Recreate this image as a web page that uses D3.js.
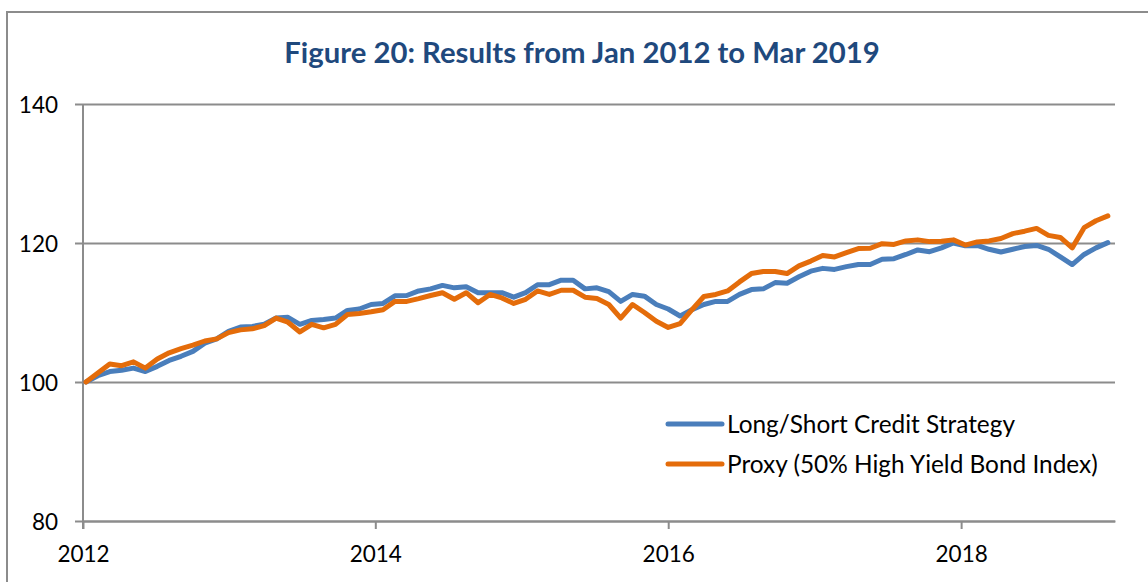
<!DOCTYPE html>
<html>
<head>
<meta charset="utf-8">
<script src="https://cdn.jsdelivr.net/npm/d3@7"></script>
<style>
    body { margin: 0; background: #fff; }
    svg { display: block; }
    text { font-family: Lato, "Open Sans", sans-serif; }
</style>
</head>
<body>
<svg id="chart" width="1148" height="582"></svg>
<script>

// monthly index, Jan 2012 .. Mar 2019
var strategy = [
    100.0, 100.9, 101.5, 101.7, 102.0, 101.5, 102.25, 103.1, 103.7, 104.4,
    105.6, 106.2, 107.3, 107.9, 108.0, 108.3, 109.2, 109.3, 108.3, 108.85,
    109.0, 109.2, 110.3, 110.5, 111.15, 111.3, 112.4, 112.45, 113.1, 113.4,
    113.9, 113.55, 113.7, 112.85, 112.85, 112.85, 112.2, 112.85, 114.0, 114.0,
    114.65, 114.65, 113.4, 113.55, 113.0, 111.6, 112.6, 112.35, 111.15, 110.5,
    109.5, 110.4, 111.15, 111.6, 111.6, 112.6, 113.3, 113.4, 114.3, 114.2,
    115.15, 115.95, 116.35, 116.2, 116.6, 116.9, 116.9, 117.65, 117.75, 118.35,
    119.0, 118.75, 119.3, 120.0, 119.6, 119.65, 119.1, 118.7, 119.1, 119.5,
    119.65, 119.1, 118.0, 116.9, 118.35, 119.3, 120.05
]

var proxy = [
    100.0, 101.3, 102.6, 102.35, 102.9, 102.0, 103.3, 104.2, 104.8, 105.3,
    105.9, 106.2, 107.1, 107.5, 107.65, 108.1, 109.2, 108.6, 107.2, 108.3,
    107.8, 108.3, 109.7, 109.85, 110.1, 110.4, 111.6, 111.6, 112.0, 112.45,
    112.85, 111.9, 112.85, 111.4, 112.6, 112.1, 111.3, 111.9, 113.1, 112.6,
    113.2, 113.2, 112.2, 112.0, 111.15, 109.2, 111.15, 110.0, 108.75, 107.85,
    108.4, 110.4, 112.3, 112.6, 113.1, 114.4, 115.6, 115.9, 115.9, 115.6,
    116.7, 117.4, 118.2, 118.0, 118.6, 119.2, 119.25, 119.9, 119.8, 120.3,
    120.45, 120.2, 120.25, 120.45, 119.7, 120.15, 120.3, 120.65, 121.35, 121.7,
    122.1, 121.1, 120.8, 119.3, 122.2, 123.2, 123.9
]

var seriesNames = ["Long/Short Credit Strategy", "Proxy (50% High Yield Bond Index)"]
var seriesColors = ["#4a7ebb", "#e46c0a"]

var yTicks = [80, 100, 120, 140]
var yearLabels = ["2012", "2014", "2016", "2018"]
var yearTickIdx = [-0.25, 24.35, 49.0, 73.65]   // where the year labels fall on the month index

var title = "Figure 20: Results from Jan 2012 to Mar 2019"

var svg = d3.select("#chart")

// outer frame (cropped on the right and bottom)
svg.append("rect")
    .attr("x", 7)
    .attr("y", 12)
    .attr("width", 1160)
    .attr("height", 600)
    .attr("fill", "none")
    .attr("stroke", "#8c8c8c")
    .attr("stroke-width", 2)

svg.append("text")
    .attr("x", 582)
    .attr("y", 63)
    .attr("text-anchor", "middle")
    .attr("font-size", 29.3)
    .attr("font-weight", "bold")
    .attr("fill", "#1f497d")
    .text(title)

var x = d3.scaleLinear()
          .domain([-0.25, 86.6])
          .range([83, 1115])

var y = d3.scaleLinear()
          .domain([80, 140])
          .range([521, 104])

// horizontal grid + y ticks
var yAxis = d3.axisLeft(y)
              .tickValues(yTicks)
              .tickSize(8)
              .tickPadding(17)

var gy = svg.append("g")
            .attr("transform", "translate(83,0)")
            .call(yAxis)

gy.select(".domain").remove()
gy.selectAll(".tick line")
    .attr("x2", 1115 - 83)
    .attr("x1", -8)
gy.selectAll(".tick line, .domain")
    .attr("stroke", "#8c8c8c")
    .attr("stroke-width", 2)
gy.selectAll("text")
    .attr("font-size", 22.5)
    .attr("fill", "#000")
    .attr("dy", "0.36em")

// x axis
var xAxis = d3.axisBottom(x)
              .tickValues(yearTickIdx)
              .tickFormat(function(d, i) { return yearLabels[i] })
              .tickSize(8)
              .tickSizeOuter(0)
              .tickPadding(17)

var gx = svg.append("g")
            .attr("transform", "translate(0,521)")
            .call(xAxis)

gx.selectAll(".tick line, .domain")
    .attr("stroke", "#8c8c8c")
    .attr("stroke-width", 2)
gx.selectAll("text")
    .attr("font-size", 22.5)
    .attr("fill", "#000")

// vertical axis line
svg.append("line")
    .attr("x1", x(-0.25))
    .attr("x2", x(-0.25))
    .attr("y1", y(140))
    .attr("y2", y(80) + 8)
    .attr("stroke", "#8c8c8c")
    .attr("stroke-width", 2)

var line = d3.line()
             .x(function(d, i) { return x(i) })
             .y(function(d) { return y(d) })

var series = [strategy, proxy]

svg.selectAll("path.series")
    .data(series)
  .enter().append("path")
    .attr("class", "series")
    .attr("d", line)
    .attr("fill", "none")
    .attr("stroke", function(d, i) { return seriesColors[i] })
    .attr("stroke-width", 5)
    .attr("stroke-linejoin", "round")
    .attr("stroke-linecap", "round")

// legend
var legend = svg.selectAll("g.legend")
                .data(seriesNames)
              .enter().append("g")
                .attr("class", "legend")
                .attr("transform", function(d, i) {
                    return "translate(668," + (424 + i * 40) + ")"
                })

legend.append("line")
    .attr("x1", 0)
    .attr("x2", 54)
    .attr("stroke", function(d, i) { return seriesColors[i] })
    .attr("stroke-width", 5)
    .attr("stroke-linecap", "round")

legend.append("text")
    .attr("x", 59)
    .attr("y", 8.5)
    .attr("font-size", 24.4)
    .attr("fill", "#000")
    .text(function(d) { return d })

</script>
</body>
</html>
